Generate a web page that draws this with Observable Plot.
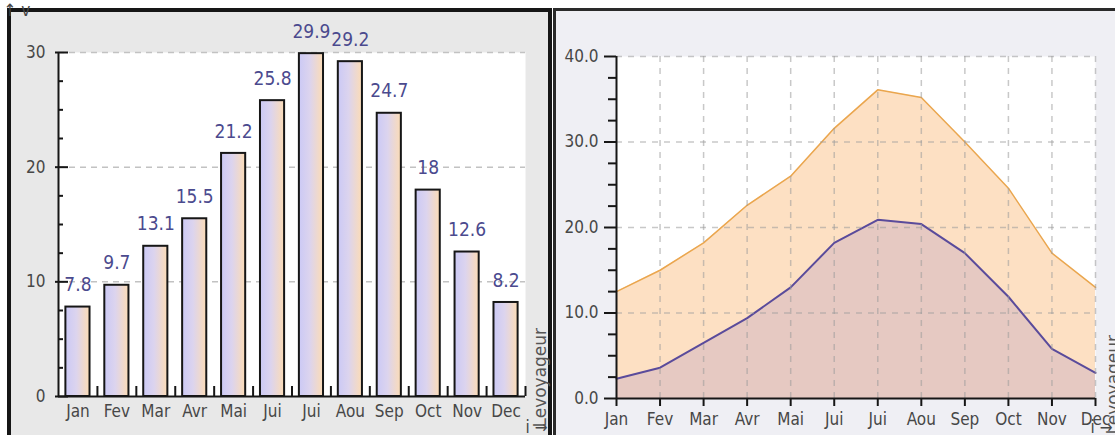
<!DOCTYPE html>
<html>
<head>
<meta charset="utf-8">
<script src="https://cdn.jsdelivr.net/npm/d3@7"></script>
<script src="https://cdn.jsdelivr.net/npm/@observablehq/plot@0.6"></script>
<style>
  html, body { margin: 0; padding: 0; background: #ffffff; overflow: hidden; }
  body { width: 1115px; height: 435px; position: relative; }
  .panel { position: absolute; box-sizing: border-box; }
  #panelL { left: 7px; top: 8px; width: 545px; height: 427px; background: #e8e8e8; border: 4px solid #161616; border-bottom: none; }
  #panelR { left: 553px; top: 8px; width: 562px; height: 427px; background: #efeff4; border-left: 3px solid #2a2a2a; border-top: 3px solid #2a2a2a; }
  .chart { position: absolute; top: 0; }
  #chartL { left: 0; width: 550px; height: 435px; }
  #chartR { left: 555px; width: 560px; height: 435px; }
  #defs { position: absolute; left: 0; top: 0; width: 0; height: 0; overflow: hidden; }
</style>
</head>
<body>
<div class="panel" id="panelL"></div>
<div class="panel" id="panelR"></div>
<div class="chart" id="chartL"></div>
<div class="chart" id="chartR"></div>
<div id="defs"><svg width="0" height="0"><defs>
  <linearGradient id="barGrad" x1="0" x2="1" y1="0" y2="0">
    <stop offset="0" stop-color="#cbc9f5"/>
    <stop offset="0.45" stop-color="#dcd4ee"/>
    <stop offset="1" stop-color="#fcdcb6"/>
  </linearGradient>
</defs></svg></div>
<script>
// ---- data ----
const months = ["Jan","Fev","Mar","Avr","Mai","Jui","Jui","Aou","Sep","Oct","Nov","Dec"];
const seaTemp = [7.8, 9.7, 13.1, 15.5, 21.2, 25.8, 29.9, 29.2, 24.7, 18, 12.6, 8.2];
const tMax = [12.5, 15.0, 18.2, 22.6, 26.0, 31.6, 36.1, 35.2, 30.0, 24.6, 17.0, 13.0];
const tMin = [2.3, 3.6, 6.5, 9.4, 13.0, 18.2, 20.9, 20.4, 17.0, 11.9, 5.8, 3.0];
const leftMajor = [0, 10, 20, 30];
const leftMinor = [2.5, 5, 7.5, 12.5, 15, 17.5, 22.5, 25, 27.5];
const rightMajor = [0, 10, 20, 30, 40];
const rightMinor = [2.5, 5, 7.5, 12.5, 15, 17.5, 22.5, 25, 27.5, 32.5, 35, 37.5];
const watermark = ["Levoyageur"];

const FONT = "'Liberation Sans Narrow', 'DejaVu Sans Condensed', 'Roboto Condensed', sans-serif";
const WMFONT = "'DejaVu Sans', sans-serif";
const idx = months.map((m, i) => i);

// ---- left chart: bars ----
const barData = months.map((m, i) => ({i, m, v: seaTemp[i]}));
const LW = 550, LH = 435, LmL = 58, LmR = 25, LmT = 52, LmB = 39;
const LinW = LW - LmL - LmR, LinH = LH - LmT - LmB;
const xDomL = [-0.5, months.length - 0.5];
const bounds = idx.map(i => i + 0.5);
const axisCol = "#161616";

const left = Plot.plot({
  width: LW, height: LH,
  marginLeft: LmL, marginRight: LmR, marginTop: LmT, marginBottom: LmB,
  style: {background: "transparent", fontFamily: FONT, fontSize: "17px", color: "#474747", overflow: "visible"},
  x: {type: "linear", domain: xDomL, axis: null},
  y: {domain: [0, 30], axis: null},
  marks: [
    Plot.frame({fill: "white", stroke: "none"}),
    Plot.ruleY(leftMajor.filter(d => d > 0), {stroke: "#c2c2c2", strokeWidth: 1.5, strokeDasharray: "6,5"}),
    Plot.rectY(barData, {x1: d => d.i - 0.31, x2: d => d.i + 0.31, y: "v", fill: "url(#barGrad)", stroke: axisCol, strokeWidth: 2}),
    Plot.text(barData, {x: "i", y: "v", text: d => String(d.v), dy: -22, fill: "#4b4a8e", fontSize: 19}),
    Plot.ruleY([0], {stroke: axisCol, strokeWidth: 2}),
    Plot.ruleX([xDomL[0]], {stroke: axisCol, strokeWidth: 2}),
    Plot.tickX(bounds, {x: d => d, insetTop: LinH - 10, stroke: axisCol, strokeWidth: 2}),
    Plot.ruleY(leftMajor, {insetRight: LinW - 10, stroke: axisCol, strokeWidth: 2}),
    Plot.ruleY(leftMinor, {insetRight: LinW - 5, stroke: axisCol, strokeWidth: 2}),
    Plot.axisY({ticks: leftMajor, tickSize: 3, tickPadding: 10, strokeWidth: 2, stroke: axisCol}),
    Plot.axisX({ticks: idx, tickFormat: i => months[i], tickSize: 0, tickPadding: 8}),
    Plot.text(watermark, {frameAnchor: "bottom-right", rotate: -90, textAnchor: "start", lineAnchor: "middle",
      dx: 15, dy: 31, fontFamily: WMFONT, fontSize: 17, fill: "#555555", letterSpacing: "1px"})
  ]
});
document.getElementById("chartL").appendChild(left);

// ---- right chart: areas ----
const tData = months.map((m, i) => ({i, m, max: tMax[i], min: tMin[i]}));
const RW = 560, RH = 435, RmL = 61, RmR = 20, RmT = 56, RmB = 37;
const right = Plot.plot({
  width: RW, height: RH,
  marginLeft: RmL, marginRight: RmR, marginTop: RmT, marginBottom: RmB,
  style: {background: "transparent", fontFamily: FONT, fontSize: "17px", color: "#474747", overflow: "visible"},
  x: {type: "linear", domain: [0, months.length - 1], axis: null},
  y: {domain: [0, 40], axis: null},
  marks: [
    Plot.frame({fill: "white", stroke: "none"}),
    Plot.areaY(tData, {x: "i", y: "max", fill: "#fde0c3"}),
    Plot.lineY(tData, {x: "i", y: "max", stroke: "#eaa64e", strokeWidth: 1.5}),
    Plot.areaY(tData, {x: "i", y: "min", fill: "#e6c9c2"}),
    Plot.lineY(tData, {x: "i", y: "min", stroke: "#5a4b9b", strokeWidth: 2}),
    Plot.ruleY(rightMajor.filter(d => d > 0), {stroke: "#9a9a9a", strokeOpacity: 0.55, strokeWidth: 1.5, strokeDasharray: "6,6"}),
    Plot.ruleX(idx.filter(i => i > 0), {stroke: "#9a9a9a", strokeOpacity: 0.55, strokeWidth: 1.5, strokeDasharray: "6,6"}),
    Plot.ruleY([0], {stroke: axisCol, strokeWidth: 2}),
    Plot.ruleX([0], {stroke: axisCol, strokeWidth: 2}),
    Plot.axisY({ticks: rightMinor, tickSize: 8, tickFormat: () => "", strokeWidth: 2, stroke: axisCol}),
    Plot.axisY({ticks: rightMajor, tickSize: 12, tickPadding: 6, tickFormat: d3.format(".1f"), strokeWidth: 2, stroke: axisCol}),
    Plot.axisX({ticks: idx, tickFormat: i => months[i], tickSize: 8, tickPadding: 6, strokeWidth: 2, stroke: axisCol}),
    Plot.text(watermark, {frameAnchor: "bottom-right", rotate: -90, textAnchor: "start", lineAnchor: "middle",
      dx: 18, dy: 36, fontFamily: WMFONT, fontSize: 17, fill: "#555555", letterSpacing: "1px"})
  ]
});
document.getElementById("chartR").appendChild(right);
</script>
</body>
</html>
